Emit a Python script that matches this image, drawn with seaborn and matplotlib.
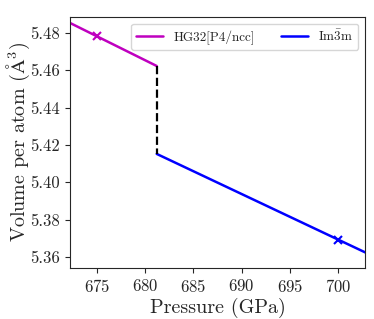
import matplotlib
matplotlib.use("Agg")
import matplotlib.pyplot as plt
import seaborn as sns

sns.set_style("ticks")
plt.rcParams["font.family"] = "serif"
plt.rcParams["font.serif"] = ["cmr10"]
plt.rcParams["mathtext.fontset"] = "cm"
plt.rcParams["axes.formatter.use_mathtext"] = True

# phase lines (pressure in GPa, volume per atom in A^3)
p_hg32 = [672.0, 681.2]
v_hg32 = [5.4859, 5.4623]
p_im3m = [681.2, 703.0]
v_im3m = [5.4152, 5.3620]

# computed points
p_mark_hg32 = [675.0]
v_mark_hg32 = [5.4786]
p_mark_im3m = [700.0]
v_mark_im3m = [5.3693]

# transition
p_trans = [681.2, 681.2]
v_trans = [5.4623, 5.4152]

fig, ax = plt.subplots(figsize=(3.74, 3.19), dpi=100)

sns.lineplot(x=p_hg32, y=v_hg32, color="m", lw=1.8, ax=ax, label="HG32[P4/ncc]")
sns.lineplot(x=p_im3m, y=v_im3m, color="b", lw=1.8, ax=ax, label=r"Im$\bar{3}$m")
ax.plot(p_trans, v_trans, "k--", lw=1.6)
ax.plot(p_mark_hg32, v_mark_hg32, "x", color="m", ms=6, mew=1.5)
ax.plot(p_mark_im3m, v_mark_im3m, "x", color="b", ms=6, mew=1.5)

ax.set_xlim(672.2, 702.8)
ax.set_ylim(5.3541, 5.4886)
ax.set_xticks([675, 680, 685, 690, 695, 700])
ax.set_yticks([5.36, 5.38, 5.40, 5.42, 5.44, 5.46, 5.48])
ax.set_yticklabels(["5.36", "5.38", "5.40", "5.42", "5.44", "5.46", "5.48"])
ax.tick_params(labelsize=12)
ax.set_xlabel("Pressure (GPa)", fontsize=14.5, labelpad=2)
ax.set_ylabel(r"Volume per atom ($\mathrm{\AA}^3$)", fontsize=14.5)
ax.yaxis.set_label_coords(-0.13, 0.5)
ax.legend(loc="upper right", ncol=2, fontsize=9.5, framealpha=0.8)

fig.subplots_adjust(left=0.187, right=0.976, top=0.947, bottom=0.16)
fig.savefig("out.png", dpi=100)
